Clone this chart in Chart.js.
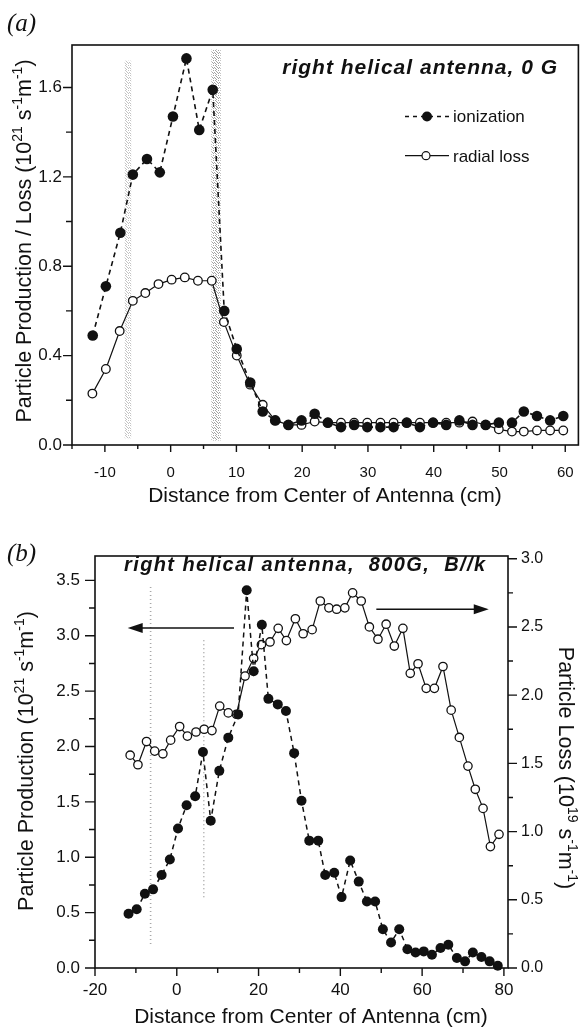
<!DOCTYPE html>
<html>
<head>
<meta charset="utf-8">
<script src="https://cdn.jsdelivr.net/npm/chart.js@4.4.0/dist/chart.umd.min.js"></script>
<style>
  html, body { margin: 0; padding: 0; background: #fff; }
  body { width: 584px; height: 1032px; position: relative; overflow: hidden; }
  .panel { position: absolute; left: 0; width: 584px; height: 516px; }
  #wrapA { top: 0; }
  #wrapB { top: 516px; }
</style>
</head>
<body>
<div class="panel" id="wrapA"><canvas id="chartA" width="584" height="516"></canvas></div>
<div class="panel" id="wrapB"><canvas id="chartB" width="584" height="516"></canvas></div>
<script>
// ---- panel (a): right helical antenna, 0 G ----
const aDistIon = [-11.85, -9.85, -7.65, -5.75, -3.6, -1.65, 0.35, 2.4, 4.35, 6.4, 8.15, 10.05, 12.1, 14.0, 15.9, 17.9,
  19.9, 21.9, 23.9, 25.9, 27.9, 29.9, 31.9, 33.9, 35.9, 37.9, 39.9, 41.9, 43.9, 45.9, 47.9, 49.9, 51.9, 53.7, 55.7, 57.7, 59.7];
const aIonization = [0.49, 0.71, 0.95, 1.21, 1.28, 1.22, 1.47, 1.73, 1.41, 1.59, 0.60, 0.43, 0.28, 0.15, 0.11, 0.09,
  0.11, 0.14, 0.10, 0.08, 0.09, 0.08, 0.08, 0.08, 0.10, 0.08, 0.10, 0.09, 0.11, 0.09, 0.09, 0.10, 0.10, 0.15, 0.13, 0.11, 0.13];
const aDistLoss = [-11.9, -9.85, -7.75, -5.75, -3.85, -1.85, 0.15, 2.15, 4.15, 6.25, 8.1, 10.05, 12.1, 14.0, 15.9, 17.9,
  19.9, 21.9, 23.9, 25.9, 27.9, 29.9, 31.9, 33.9, 35.9, 37.9, 39.9, 41.9, 43.9, 45.9, 47.9, 49.9, 51.9, 53.7, 55.7, 57.7, 59.7];
const aRadialLoss = [0.23, 0.34, 0.51, 0.645, 0.68, 0.72, 0.74, 0.75, 0.735, 0.735, 0.55, 0.40, 0.27, 0.18, 0.11, 0.09,
  0.09, 0.105, 0.10, 0.10, 0.10, 0.10, 0.10, 0.10, 0.10, 0.10, 0.10, 0.10, 0.10, 0.105, 0.09, 0.07, 0.06, 0.06, 0.065, 0.065, 0.065];
const aXMajor = [-10, 0, 10, 20, 30, 40, 50, 60];
const aXMinor = [-15, -5, 5, 15, 25, 35, 45, 55];
const aYMajor = [0.0, 0.4, 0.8, 1.2, 1.6];
const aYMinor = [0.2, 0.6, 1.0, 1.4];
// shaded antenna-strap regions (x range, y range)
const aBands = [[-7.0, -6.0, 0.03, 1.72], [6.2, 7.6, 0.02, 1.77]];

// ---- panel (b): right helical antenna, 800G, B//k ----
const bDistProd = [-11.8, -9.8, -7.8, -5.8, -3.7, -1.7, 0.3, 2.4, 4.5, 6.4, 8.3, 10.4, 12.6, 15.0, 17.1, 18.8, 20.8, 22.4,
  24.7, 26.7, 28.7, 30.5, 32.4, 34.6, 36.3, 38.5, 40.3, 42.4, 44.5, 46.5, 48.5, 50.4, 52.4, 54.4, 56.4, 58.4, 60.4, 62.4,
  64.5, 66.4, 68.5, 70.5, 72.4, 74.5, 76.5, 78.5];
const bProduction = [0.49, 0.53, 0.67, 0.71, 0.84, 0.98, 1.26, 1.47, 1.55, 1.95, 1.33, 1.78, 2.08, 2.29, 3.41, 2.68, 3.10, 2.43,
  2.38, 2.32, 1.94, 1.51, 1.15, 1.15, 0.84, 0.86, 0.64, 0.97, 0.78, 0.60, 0.60, 0.35, 0.23, 0.35, 0.17, 0.14, 0.15, 0.12,
  0.18, 0.21, 0.09, 0.06, 0.14, 0.10, 0.06, 0.02];
const bDistLoss = [-11.4, -9.5, -7.4, -5.4, -3.4, -1.5, 0.7, 2.6, 4.7, 6.7, 8.6, 10.5, 12.6, 14.6, 16.7, 18.8, 20.7, 22.8,
  24.8, 26.8, 29.0, 30.9, 33.1, 35.1, 37.2, 39.1, 41.1, 43.0, 45.1, 47.1, 49.2, 51.2, 53.2, 55.3, 57.1, 59.0, 61.0, 63.0,
  65.1, 67.1, 69.1, 71.2, 73.0, 74.9, 76.7, 78.8];
const bLoss = [1.56, 1.49, 1.66, 1.59, 1.57, 1.67, 1.77, 1.70, 1.73, 1.75, 1.74, 1.92, 1.87, 1.86, 2.14, 2.27, 2.37, 2.39,
  2.49, 2.40, 2.56, 2.45, 2.48, 2.69, 2.64, 2.63, 2.64, 2.75, 2.69, 2.50, 2.41, 2.52, 2.36, 2.49, 2.16, 2.23, 2.05, 2.05,
  2.21, 1.89, 1.69, 1.48, 1.31, 1.17, 0.89, 0.98];
const bXMajor = [-20, 0, 20, 40, 60, 80];
const bXMinor = [-10, 10, 30, 50, 70];
const bYMajor = [0, 0.5, 1.0, 1.5, 2.0, 2.5, 3.0, 3.5];
const bYMinor = [0.25, 0.75, 1.25, 1.75, 2.25, 2.75, 3.25];
const bY2Major = [0, 0.5, 1.0, 1.5, 2.0, 2.5, 3.0];
const bY2Minor = [0.25, 0.75, 1.25, 1.75, 2.25, 2.75];
// faint strap markers (x, y from, y to)
const bStraps = [[-6.4, 0.19, 3.44], [6.6, 0.62, 2.96]];

const INK = '#111';
const FAMILY = "'Liberation Sans', Arial, Helvetica, sans-serif";
Chart.defaults.font.family = FAMILY;
Chart.defaults.color = INK;

function pts(xs, ys) {
  return xs.map((x, i) => ({ x: x, y: ys[i] }));
}

function setTicks(values) {
  return function (scale) { scale.ticks = values.map(v => ({ value: v })); };
}

function tickMarks(chart, id, values, len, side) {
  const s = chart.scales[id], a = chart.chartArea, ctx = chart.ctx;
  ctx.save();
  ctx.strokeStyle = INK;
  ctx.lineWidth = 1.4;
  ctx.beginPath();
  values.forEach(v => {
    const p = s.getPixelForValue(v);
    if (side === 'bottom') { ctx.moveTo(p, a.bottom); ctx.lineTo(p, a.bottom + len); }
    else if (side === 'left') { ctx.moveTo(a.left, p); ctx.lineTo(a.left - len, p); }
    else { ctx.moveTo(a.right, p); ctx.lineTo(a.right + len, p); }
  });
  ctx.stroke();
  ctx.restore();
}

function frame(chart) {
  const a = chart.chartArea, ctx = chart.ctx;
  ctx.save();
  ctx.strokeStyle = INK;
  ctx.lineWidth = 1.6;
  ctx.strokeRect(a.left, a.top, a.right - a.left, a.bottom - a.top);
  ctx.restore();
}

// text with superscripts: parts = [[text, isSup], ...]
function richText(ctx, parts, x, y, angle, size) {
  ctx.save();
  ctx.translate(x, y);
  ctx.rotate(angle);
  const big = size + 'px ' + FAMILY;
  const small = Math.round(size * 0.64) + 'px ' + FAMILY;
  let total = 0;
  parts.forEach(p => { ctx.font = p[1] ? small : big; total += ctx.measureText(p[0]).width; });
  let cx = -total / 2;
  ctx.fillStyle = INK;
  ctx.textAlign = 'left';
  ctx.textBaseline = 'alphabetic';
  parts.forEach(p => {
    ctx.font = p[1] ? small : big;
    ctx.fillText(p[0], cx, p[1] ? -size * 0.42 : 0);
    cx += ctx.measureText(p[0]).width;
  });
  ctx.restore();
}

function plainText(ctx, text, x, y, font, align, spacing) {
  ctx.save();
  ctx.font = font;
  ctx.fillStyle = INK;
  ctx.textAlign = align;
  ctx.textBaseline = 'alphabetic';
  if (spacing && 'letterSpacing' in ctx) ctx.letterSpacing = spacing;
  ctx.fillText(text, x, y);
  ctx.restore();
}

// speckled grey fill for the strap shading
function speckle(ctx, color) {
  const c = document.createElement('canvas');
  c.width = 5; c.height = 5;
  const g = c.getContext('2d');
  g.fillStyle = color;
  [[0, 0], [3, 0], [1, 1], [4, 2], [2, 2], [0, 3], [3, 3], [1, 4]].forEach(p => g.fillRect(p[0], p[1], 1, 1));
  return ctx.createPattern(c, 'repeat');
}

function arrow(ctx, x0, x1, y) {
  const dir = Math.sign(x1 - x0);
  ctx.save();
  ctx.strokeStyle = INK; ctx.fillStyle = INK; ctx.lineWidth = 1.6;
  ctx.beginPath(); ctx.moveTo(x0, y); ctx.lineTo(x1 - dir * 12, y); ctx.stroke();
  ctx.beginPath(); ctx.moveTo(x1, y); ctx.lineTo(x1 - dir * 15, y - 5); ctx.lineTo(x1 - dir * 15, y + 5);
  ctx.closePath(); ctx.fill();
  ctx.restore();
}

const unitsA = [['Particle Production / Loss (10', 0], ['21', 1], [' s', 0], ['-1', 1], ['m', 0], ['-1', 1], [')', 0]];
const unitsB = [['Particle Production (10', 0], ['21', 1], [' s', 0], ['-1', 1], ['m', 0], ['-1', 1], [')', 0]];
const unitsB2 = [['Particle Loss (10', 0], ['19', 1], [' s', 0], ['-1', 1], ['m', 0], ['-1', 1], [')', 0]];

const decorA = {
  id: 'decorA',
  beforeDatasetsDraw(chart) {
    const ctx = chart.ctx, x = chart.scales.x, y = chart.scales.y;
    ctx.save();
    aBands.forEach((b, i) => {
      ctx.fillStyle = speckle(ctx, i === 0 ? '#c4c4c4' : '#a4a4a4');
      const x0 = x.getPixelForValue(b[0]), x1 = x.getPixelForValue(b[1]);
      const y0 = y.getPixelForValue(b[3]), y1 = y.getPixelForValue(b[2]);
      ctx.fillRect(x0, y0, x1 - x0, y1 - y0);
    });
    ctx.restore();
  },
  afterDraw(chart) {
    const ctx = chart.ctx;
    frame(chart);
    tickMarks(chart, 'x', aXMajor, 7, 'bottom');
    tickMarks(chart, 'x', aXMinor, 4, 'bottom');
    tickMarks(chart, 'y', aYMajor, 9, 'left');
    tickMarks(chart, 'y', aYMinor, 6, 'left');

    plainText(ctx, '(a)', 7, 31, 'italic 25px "Liberation Serif", "DejaVu Serif", serif', 'left');
    plainText(ctx, 'right helical antenna, 0 G', 558, 74, 'italic bold 21px ' + FAMILY, 'right', '1px');

    // legend
    ctx.save();
    ctx.strokeStyle = INK; ctx.fillStyle = INK;
    ctx.lineWidth = 1.5; ctx.setLineDash([4, 4]);
    ctx.beginPath(); ctx.moveTo(405, 116.5); ctx.lineTo(450, 116.5); ctx.stroke();
    ctx.setLineDash([]);
    ctx.beginPath(); ctx.arc(427, 116.5, 5, 0, Math.PI * 2); ctx.fill();
    ctx.lineWidth = 1.2;
    ctx.beginPath(); ctx.moveTo(405, 155.7); ctx.lineTo(449, 155.7); ctx.stroke();
    ctx.fillStyle = '#fff';
    ctx.beginPath(); ctx.arc(426, 155.7, 4, 0, Math.PI * 2); ctx.fill(); ctx.stroke();
    ctx.restore();
    const ds = chart.data.datasets;
    plainText(ctx, ds[0].label, 453, 122, '17px ' + FAMILY, 'left');
    plainText(ctx, ds[1].label, 453, 161.5, '17px ' + FAMILY, 'left');

    richText(ctx, unitsA, 31, 241, -Math.PI / 2, 21.5);
    plainText(ctx, 'Distance from Center of Antenna (cm)', 325, 502, '21px ' + FAMILY, 'center');
  }
};

const decorB = {
  id: 'decorB',
  beforeDatasetsDraw(chart) {
    const ctx = chart.ctx, x = chart.scales.x, y = chart.scales.y;
    ctx.save();
    ctx.strokeStyle = '#a8a8a8'; ctx.lineWidth = 1.6; ctx.setLineDash([1, 3]);
    bStraps.forEach(s => {
      const px = x.getPixelForValue(s[0]);
      ctx.beginPath(); ctx.moveTo(px, y.getPixelForValue(s[2])); ctx.lineTo(px, y.getPixelForValue(s[1])); ctx.stroke();
    });
    ctx.restore();
  },
  afterDraw(chart) {
    const ctx = chart.ctx, x = chart.scales.x, y = chart.scales.y, y2 = chart.scales.y2;
    frame(chart);
    tickMarks(chart, 'x', bXMajor, 8, 'bottom');
    tickMarks(chart, 'x', bXMinor, 5, 'bottom');
    tickMarks(chart, 'y', bYMajor, 10, 'left');
    tickMarks(chart, 'y', bYMinor, 6, 'left');
    tickMarks(chart, 'y2', bY2Major, 9, 'right');
    tickMarks(chart, 'y2', bY2Minor, 5, 'right');

    plainText(ctx, '(b)', 7, 45, 'italic 25px "Liberation Serif", "DejaVu Serif", serif', 'left');
    plainText(ctx, 'right helical antenna,  800G,  B//k', 124, 55, 'italic bold 20px ' + FAMILY, 'left', '1.4px');

    arrow(ctx, x.getPixelForValue(14.0), x.getPixelForValue(-12.0), y.getPixelForValue(3.07));
    arrow(ctx, x.getPixelForValue(48.8), x.getPixelForValue(76.3), y2.getPixelForValue(2.63));

    richText(ctx, unitsB, 33, 245, -Math.PI / 2, 21.5);
    richText(ctx, unitsB2, 559, 252, Math.PI / 2, 21.5);
    plainText(ctx, 'Distance from Center of Antenna (cm)', 311, 507, '21px ' + FAMILY, 'center');
  }
};

const commonOpts = {
  responsive: false,
  animation: false,
  events: [],
  plugins: { legend: { display: false }, tooltip: { enabled: false } }
};

const noGrid = { display: false, drawTicks: false, tickLength: 0 };

new Chart(document.getElementById('chartA'), {
  type: 'line',
  data: {
    datasets: [
      { label: 'ionization', data: pts(aDistIon, aIonization), borderColor: INK, borderWidth: 1.6, borderDash: [5, 4],
        pointRadius: 5.3, pointBackgroundColor: INK, pointBorderColor: INK, pointBorderWidth: 0, clip: false, order: 0 },
      { label: 'radial loss', data: pts(aDistLoss, aRadialLoss), borderColor: INK, borderWidth: 1.2,
        pointRadius: 4.3, pointBackgroundColor: '#fff', pointBorderColor: INK, pointBorderWidth: 1.3, clip: false, order: 1 }
    ]
  },
  options: Object.assign({}, commonOpts, {
    layout: { padding: { top: 45, right: 1, left: 0, bottom: 0 } },
    scales: {
      x: {
        type: 'linear', min: -15, max: 62,
        grid: noGrid, border: { display: false },
        ticks: { font: { size: 15 }, color: INK, padding: 19, maxRotation: 0, callback: v => String(v) },
        afterBuildTicks: setTicks(aXMajor),
        afterFit: s => { s.height = 71; s.paddingLeft = 0; s.paddingRight = 0; }
      },
      y: {
        type: 'linear', min: 0, max: 1.79,
        grid: noGrid, border: { display: false },
        ticks: { font: { size: 17 }, color: INK, padding: 10, callback: v => v.toFixed(1) },
        afterBuildTicks: setTicks(aYMajor),
        afterFit: s => { s.width = 72; s.paddingTop = 0; s.paddingBottom = 0; }
      }
    }
  }),
  plugins: [decorA]
});

new Chart(document.getElementById('chartB'), {
  type: 'line',
  data: {
    datasets: [
      { label: 'Particle Production', data: pts(bDistProd, bProduction), yAxisID: 'y', borderColor: INK, borderWidth: 1.5,
        borderDash: [5, 4], pointRadius: 5, pointBackgroundColor: INK, pointBorderColor: INK, pointBorderWidth: 0,
        clip: false, order: 0 },
      { label: 'Particle Loss', data: pts(bDistLoss, bLoss), yAxisID: 'y2', borderColor: INK, borderWidth: 1.2,
        pointRadius: 4.2, pointBackgroundColor: '#fff', pointBorderColor: INK, pointBorderWidth: 1.3, clip: false, order: 1 }
    ]
  },
  options: Object.assign({}, commonOpts, {
    layout: { padding: { top: 40, right: 0, left: 0, bottom: 0 } },
    scales: {
      x: {
        type: 'linear', min: -20, max: 81,
        grid: noGrid, border: { display: false },
        ticks: { font: { size: 17 }, color: INK, padding: 12, maxRotation: 0, callback: v => String(v) },
        afterBuildTicks: setTicks(bXMajor),
        afterFit: s => { s.height = 64; s.paddingLeft = 0; s.paddingRight = 0; }
      },
      y: {
        type: 'linear', position: 'left', min: 0, max: 3.72,
        grid: noGrid, border: { display: false },
        ticks: { font: { size: 17 }, color: INK, padding: 15, callback: v => v.toFixed(1) },
        afterBuildTicks: setTicks(bYMajor),
        afterFit: s => { s.width = 95; s.paddingTop = 0; s.paddingBottom = 0; }
      },
      y2: {
        type: 'linear', position: 'right', min: 0, max: 3.02,
        grid: noGrid, border: { display: false },
        ticks: { font: { size: 16 }, color: INK, padding: 13, callback: v => v.toFixed(1) },
        afterBuildTicks: setTicks(bY2Major),
        afterFit: s => { s.width = 76; s.paddingTop = 0; s.paddingBottom = 0; }
      }
    }
  }),
  plugins: [decorB]
});
</script>
</body>
</html>
